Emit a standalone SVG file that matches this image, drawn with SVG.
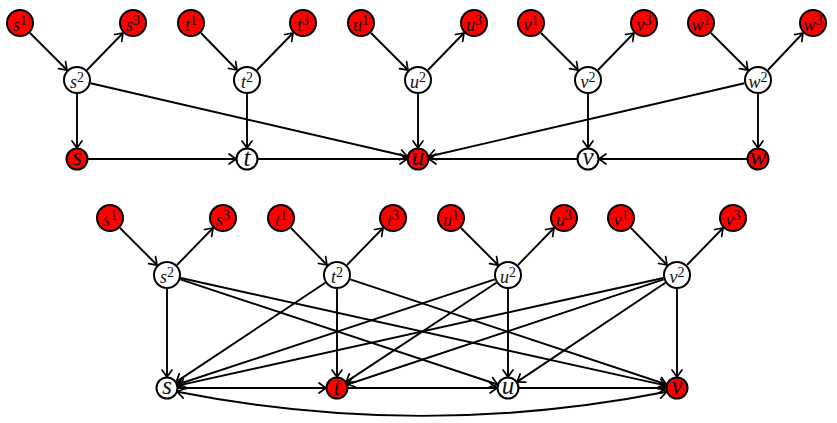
<svg xmlns="http://www.w3.org/2000/svg" width="837" height="423" viewBox="0 0 837 423">
<style>
.e{fill:none;stroke:#000;stroke-width:1.9;marker-end:url(#ah)}
.b{stroke:#000;stroke-width:2}
.r{fill:#ff0000}
.w{fill:#fff}
text{font-family:"Liberation Serif","Times New Roman",serif;font-style:italic;text-anchor:middle;fill:#111}
.sm{font-size:18px}
.lg{font-size:25px}
.sup{font-size:14px;font-style:normal}
</style>
<defs>
<marker id="ah" viewBox="-8 -6 10 12" refX="0" refY="0" markerWidth="10" markerHeight="12" markerUnits="userSpaceOnUse" orient="auto-start-reverse" overflow="visible">
<path d="M-7,-5 Q-1.5,-1 0,0 Q-1.5,1 -7,5" fill="none" stroke="#000" stroke-width="1.7" stroke-linecap="round"/>
</marker>
</defs>
<g id="connectors">
<path class="e" d="M30,33 L67,70"/>
<path class="e" d="M87,70 L123,33"/>
<path class="e" d="M201,33 L237,70"/>
<path class="e" d="M257,70 L293,33"/>
<path class="e" d="M371,33 L408,70"/>
<path class="e" d="M428,70 L464,33"/>
<path class="e" d="M541,33 L578,70"/>
<path class="e" d="M598,70 L634,33"/>
<path class="e" d="M711,33 L748,70"/>
<path class="e" d="M768,70 L803,33"/>
<path class="e" d="M77,94 L77,148"/>
<path class="e" d="M247,94 L247,148"/>
<path class="e" d="M418,94 L418,148"/>
<path class="e" d="M588,94 L588,148"/>
<path class="e" d="M758,94 L758,148"/>
<path class="e" d="M88,159 L236,159"/>
<path class="e" d="M258,159 L407,159"/>
<path class="e" d="M577,159 L429,159"/>
<path class="e" d="M747,159 L599,159"/>
<path class="e" d="M90.6,83.2 L407.3,156.5"/>
<path class="e" d="M744.4,83.2 L428.7,156.5"/>

<path class="e" d="M120,228 L157,265"/>
<path class="e" d="M177,265 L213,228"/>
<path class="e" d="M291,228 L327,265"/>
<path class="e" d="M347,265 L383,228"/>
<path class="e" d="M461,228 L498,265"/>
<path class="e" d="M518,265 L554,228"/>
<path class="e" d="M631,228 L667,265"/>
<path class="e" d="M687,265 L723,228"/>
<path class="e" d="M167,289 L167,377"/>
<path class="e" d="M337,289 L337,377"/>
<path class="e" d="M508,289 L508,377"/>
<path class="e" d="M677,289 L677,377"/>
<path class="e" d="M178,388 L326,388"/>
<path class="e" d="M348,388 L497,388"/>
<path class="e" d="M519,388 L666,388"/>
<path class="e" d="M180.3,279.4 L497.6,384.5"/>
<path class="e" d="M180.7,278 L666.3,385.6"/>
<path class="e" d="M325.3,282.8 L176.2,381.9"/>
<path class="e" d="M350.3,279.4 L666.6,384.5"/>
<path class="e" d="M494.7,279.4 L177.4,384.5"/>
<path class="e" d="M496.3,282.7 L346.2,381.9"/>
<path class="e" d="M663.3,278 L177.7,385.6"/>
<path class="e" d="M663.7,279.4 L347.4,384.5"/>
<path class="e" d="M665.4,282.8 L517.1,381.9"/>
<path class="e" d="M177.3,391.8 Q422,440 666.7,391.8" marker-start="url(#ah)"/>
</g>

<g id="top-s1"><circle class="b r" cx="20" cy="23" r="13"/><text class="sm" x="20" y="31">s<tspan class="sup" dy="-6">1</tspan></text></g>
<g id="top-s2"><circle class="b w" cx="77" cy="80" r="13"/><text class="sm" x="77" y="88">s<tspan class="sup" dy="-6">2</tspan></text></g>
<g id="top-s3"><circle class="b r" cx="133" cy="23" r="13"/><text class="sm" x="133" y="31">s<tspan class="sup" dy="-6">3</tspan></text></g>
<g id="top-s"><circle class="b r" cx="77" cy="159" r="10.5"/><text class="lg" x="77" y="165">s</text></g>

<g id="top-t1"><circle class="b r" cx="191" cy="23" r="13"/><text class="sm" x="191" y="31">t<tspan class="sup" dy="-6">1</tspan></text></g>
<g id="top-t2"><circle class="b w" cx="247" cy="80" r="13"/><text class="sm" x="247" y="88">t<tspan class="sup" dy="-6">2</tspan></text></g>
<g id="top-t3"><circle class="b r" cx="303" cy="23" r="13"/><text class="sm" x="303" y="31">t<tspan class="sup" dy="-6">3</tspan></text></g>
<g id="top-t"><circle class="b w" cx="247" cy="159" r="10.5"/><text class="lg" x="247" y="166">t</text></g>

<g id="top-u1"><circle class="b r" cx="361" cy="23" r="13"/><text class="sm" x="361" y="31">u<tspan class="sup" dy="-6">1</tspan></text></g>
<g id="top-u2"><circle class="b w" cx="418" cy="80" r="13"/><text class="sm" x="418" y="88">u<tspan class="sup" dy="-6">2</tspan></text></g>
<g id="top-u3"><circle class="b r" cx="474" cy="23" r="13"/><text class="sm" x="474" y="31">u<tspan class="sup" dy="-6">3</tspan></text></g>
<g id="top-u"><circle class="b r" cx="418" cy="159" r="10.5"/><text class="lg" x="418" y="165">u</text></g>

<g id="top-v1"><circle class="b r" cx="531" cy="23" r="13"/><text class="sm" x="531" y="31">v<tspan class="sup" dy="-6">1</tspan></text></g>
<g id="top-v2"><circle class="b w" cx="588" cy="80" r="13"/><text class="sm" x="588" y="88">v<tspan class="sup" dy="-6">2</tspan></text></g>
<g id="top-v3"><circle class="b r" cx="644" cy="23" r="13"/><text class="sm" x="644" y="31">v<tspan class="sup" dy="-6">3</tspan></text></g>
<g id="top-v"><circle class="b w" cx="588" cy="159" r="10.5"/><text class="lg" x="588" y="165">v</text></g>

<g id="top-w1"><circle class="b r" cx="701" cy="23" r="13"/><text class="sm" x="701" y="31">w<tspan class="sup" dy="-6">1</tspan></text></g>
<g id="top-w2"><circle class="b w" cx="758" cy="80" r="13"/><text class="sm" x="758" y="88">w<tspan class="sup" dy="-6">2</tspan></text></g>
<g id="top-w3"><circle class="b r" cx="813" cy="23" r="13"/><text class="sm" x="813" y="31">w<tspan class="sup" dy="-6">3</tspan></text></g>
<g id="top-w"><circle class="b r" cx="758" cy="159" r="10.5"/><text class="lg" x="758" y="165">w</text></g>

<g id="bot-s1"><circle class="b r" cx="110" cy="218" r="13"/><text class="sm" x="110" y="226">s<tspan class="sup" dy="-6">1</tspan></text></g>
<g id="bot-s2"><circle class="b w" cx="167" cy="275" r="13"/><text class="sm" x="167" y="283">s<tspan class="sup" dy="-6">2</tspan></text></g>
<g id="bot-s3"><circle class="b r" cx="223" cy="218" r="13"/><text class="sm" x="223" y="226">s<tspan class="sup" dy="-6">3</tspan></text></g>
<g id="bot-s"><circle class="b w" cx="167" cy="388" r="10.5"/><text class="lg" x="167" y="394">s</text></g>

<g id="bot-t1"><circle class="b r" cx="281" cy="218" r="13"/><text class="sm" x="281" y="226">t<tspan class="sup" dy="-6">1</tspan></text></g>
<g id="bot-t2"><circle class="b w" cx="337" cy="275" r="13"/><text class="sm" x="337" y="283">t<tspan class="sup" dy="-6">2</tspan></text></g>
<g id="bot-t3"><circle class="b r" cx="393" cy="218" r="13"/><text class="sm" x="393" y="226">t<tspan class="sup" dy="-6">3</tspan></text></g>
<g id="bot-t"><circle class="b r" cx="337" cy="388" r="10.5"/><text class="lg" x="337" y="395">t</text></g>

<g id="bot-u1"><circle class="b r" cx="451" cy="218" r="13"/><text class="sm" x="451" y="226">u<tspan class="sup" dy="-6">1</tspan></text></g>
<g id="bot-u2"><circle class="b w" cx="508" cy="275" r="13"/><text class="sm" x="508" y="283">u<tspan class="sup" dy="-6">2</tspan></text></g>
<g id="bot-u3"><circle class="b r" cx="564" cy="218" r="13"/><text class="sm" x="564" y="226">u<tspan class="sup" dy="-6">3</tspan></text></g>
<g id="bot-u"><circle class="b w" cx="508" cy="388" r="10.5"/><text class="lg" x="508" y="394">u</text></g>

<g id="bot-v1"><circle class="b r" cx="621" cy="218" r="13"/><text class="sm" x="621" y="226">v<tspan class="sup" dy="-6">1</tspan></text></g>
<g id="bot-v2"><circle class="b w" cx="677" cy="275" r="13"/><text class="sm" x="677" y="283">v<tspan class="sup" dy="-6">2</tspan></text></g>
<g id="bot-v3"><circle class="b r" cx="733" cy="218" r="13"/><text class="sm" x="733" y="226">v<tspan class="sup" dy="-6">3</tspan></text></g>
<g id="bot-v"><circle class="b r" cx="677" cy="388" r="10.5"/><text class="lg" x="677" y="394">v</text></g>
</svg>
